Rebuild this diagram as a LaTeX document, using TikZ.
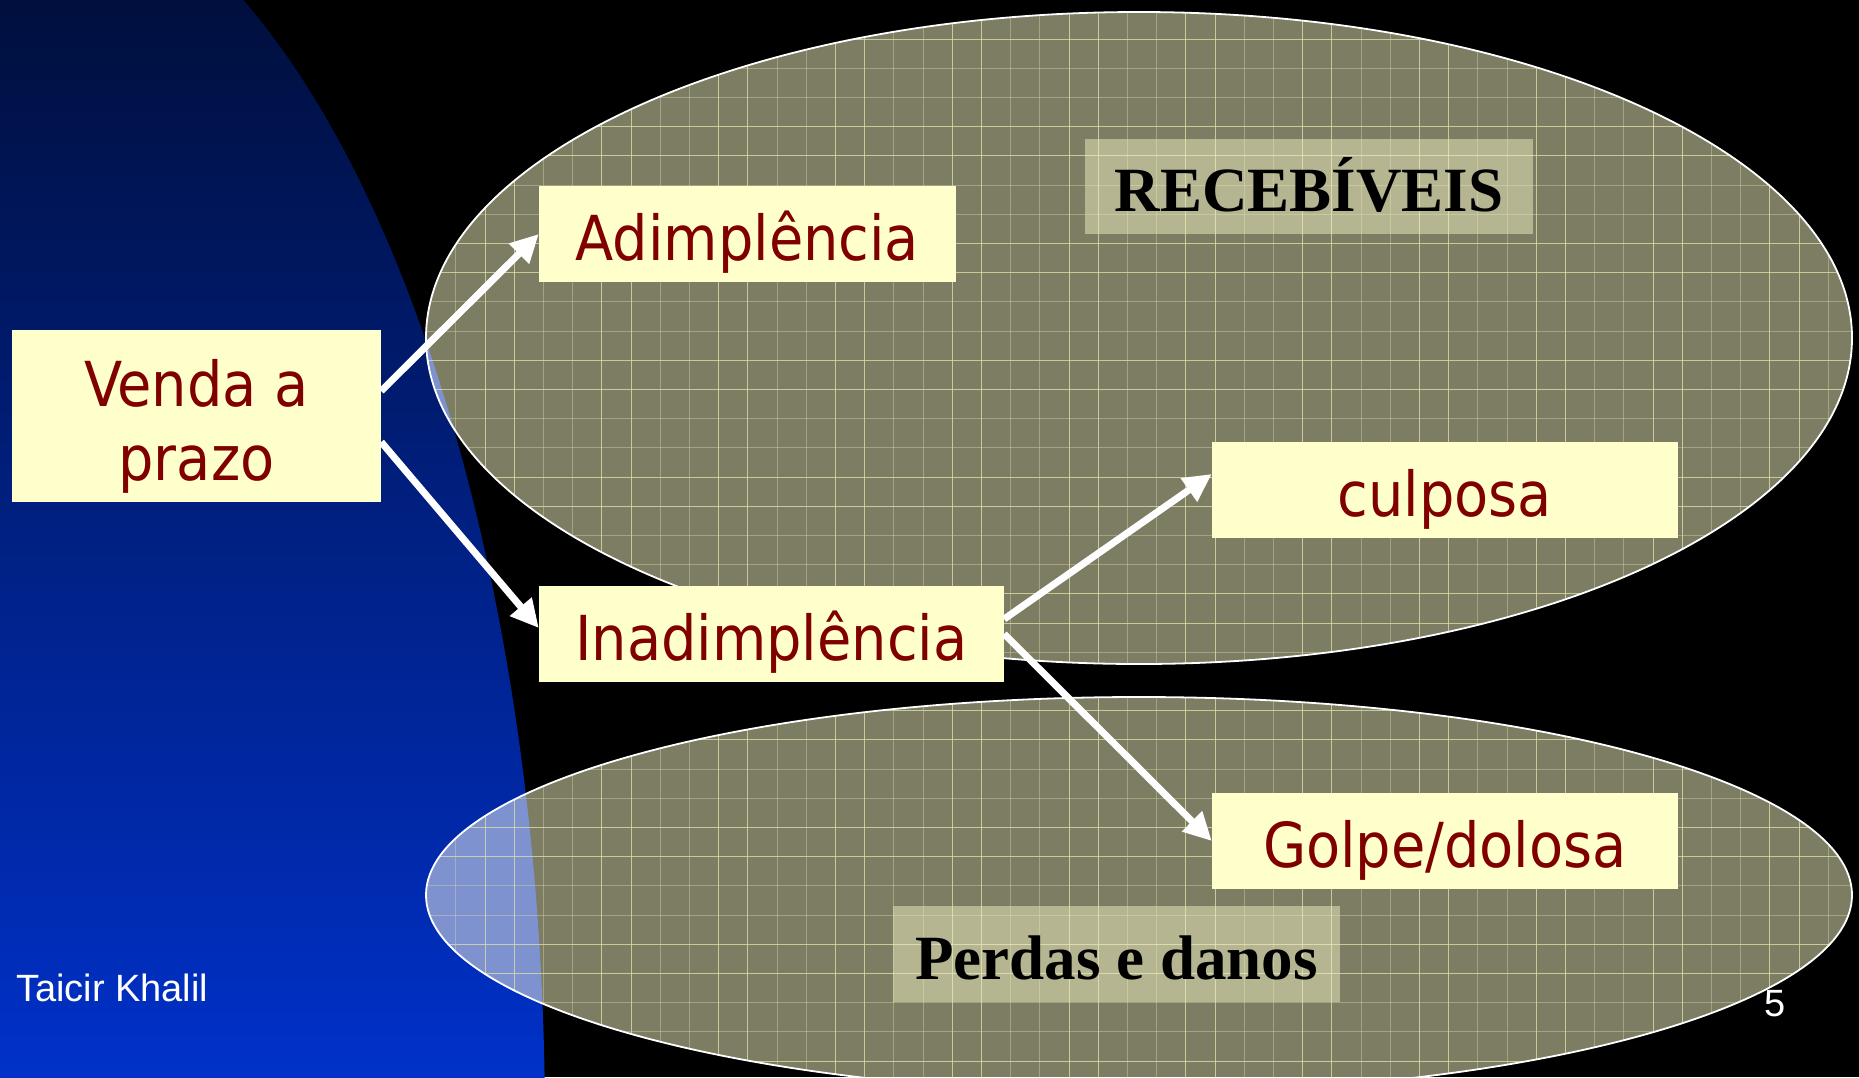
\documentclass[tikz,border=0pt]{standalone}
\usepackage{fontspec}
\setmainfont{Liberation Serif}
\newfontfamily\boxfont{DejaVu Sans Condensed}
\newfontfamily\footfont{Liberation Sans}
\usetikzlibrary{arrows.meta,calc}
\definecolor{bluetop}{HTML}{000F3D}
\definecolor{bluebot}{HTML}{0031C9}
\definecolor{olivebg}{HTML}{7D7D64}
\definecolor{gridcol}{HTML}{DCDCA8}
\definecolor{overblue}{HTML}{7E92D0}
\definecolor{boxyellow}{HTML}{FFFFCC}
\definecolor{boxred}{HTML}{800000}
\definecolor{labelfill}{HTML}{EEEEC0}
\tikzset{
  ybox/.style={fill=boxyellow, text=boxred, font=\boxfont\fontsize{62}{74}\selectfont, inner sep=0pt},
  oneline/.style={text height=58pt, text depth=6pt},
  lbox/.style={fill=labelfill, fill opacity=0.5, text opacity=1, text=black,
    font=\bfseries\fontsize{63}{70}\selectfont, inner sep=0pt, text height=56pt, text depth=6pt},
  arr/.style={draw=white, line width=7pt, -{Triangle[length=28pt,width=27pt]}},
  majorgrid/.style={draw=gridcol, line width=1.1pt, opacity=0.8},
  faintgrid/.style={draw=gridcol, line width=1pt, opacity=0.4},
  ellline/.style={draw=white, line width=1.8pt},
  foot/.style={text=white, font=\footfont\fontsize{38}{42}\selectfont, inner sep=0pt}
}
\begin{document}
\begin{tikzpicture}[x=1pt,y=-1pt]
\useasboundingbox (0,0) rectangle (1859,1077);
% background
\fill[black] (0,0) rectangle (1859,1077);
% blue region
\begin{scope}
  \clip (0,1126) ellipse [x radius=545, y radius=1258];
  \shade[top color=bluetop, bottom color=bluebot] (0,0) rectangle (620,1077);
\end{scope}
% ellipses with grid
\begin{scope}
  \clip (1139,338) ellipse [x radius=713, y radius=326]
        (1139,895) ellipse [x radius=713, y radius=198];
  \fill[olivebg] (0,0) rectangle (1859,1077);
  \begin{scope}
    \clip (0,1126) ellipse [x radius=545, y radius=1258];
    \fill[overblue] (0,0) rectangle (620,1077);
  \end{scope}
  \foreach \i in {12,...,63} {
    \pgfmathtruncatemacro{\m}{mod(\i,4)}
    \ifnum\m<2
      \draw[majorgrid] ({17.9+\i*29.2},0) -- ++(0,1077);
    \else
      \draw[faintgrid] ({17.9+\i*29.2},0) -- ++(0,1077);
    \fi
  }
  \foreach \j in {0,...,37} {
    \pgfmathtruncatemacro{\m}{mod(\j,4)}
    \ifnum\m<2
      \draw[majorgrid] (380,{9.9+\j*29.2}) -- ++(1479,0);
    \else
      \draw[faintgrid] (380,{9.9+\j*29.2}) -- ++(1479,0);
    \fi
  }
\end{scope}
\draw[ellline] (1139,338) ellipse [x radius=713, y radius=326];
\draw[ellline] (1139,895) ellipse [x radius=713, y radius=198];
% labels
\node[lbox, minimum width=448pt, minimum height=95pt] (receb) at (1309,186.5) {RECEBÍVEIS};
\node[lbox, minimum width=447pt, minimum height=96pt] (perdas) at (1116.5,954) {Perdas e danos};
% boxes
\node[ybox, align=center, minimum width=369pt, minimum height=172pt] (venda) at (196.5,416) {\rule{0pt}{67pt}Venda a\\prazo};
\node[ybox, oneline, minimum width=417pt, minimum height=96pt] (adim) at (747.5,234) {Adimplência};
\node[ybox, oneline, minimum width=465pt, minimum height=96pt] (inad) at (771.5,634) {Inadimplência};
\node[ybox, oneline, minimum width=466pt, minimum height=96pt] (culp) at (1445,490) {culposa};
\node[ybox, oneline, minimum width=466pt, minimum height=96pt] (golpe) at (1445,841) {Golpe/dolosa};
% arrows
\draw[arr] ([yshift=25pt]venda.east) -- (adim.west);
\draw[arr] ([yshift=-26pt]venda.east) -- ([yshift=6pt]inad.west);
\draw[arr] ([yshift=15pt]inad.east) -- ([yshift=16pt]culp.west);
\draw[arr] (inad.east) -- (golpe.west);
% footer
\node[foot, anchor=base west] (author) at (16,1001) {Taicir Khalil};
\node[foot, anchor=base west] (page) at (1764,1016) {5};
\end{tikzpicture}
\end{document}
